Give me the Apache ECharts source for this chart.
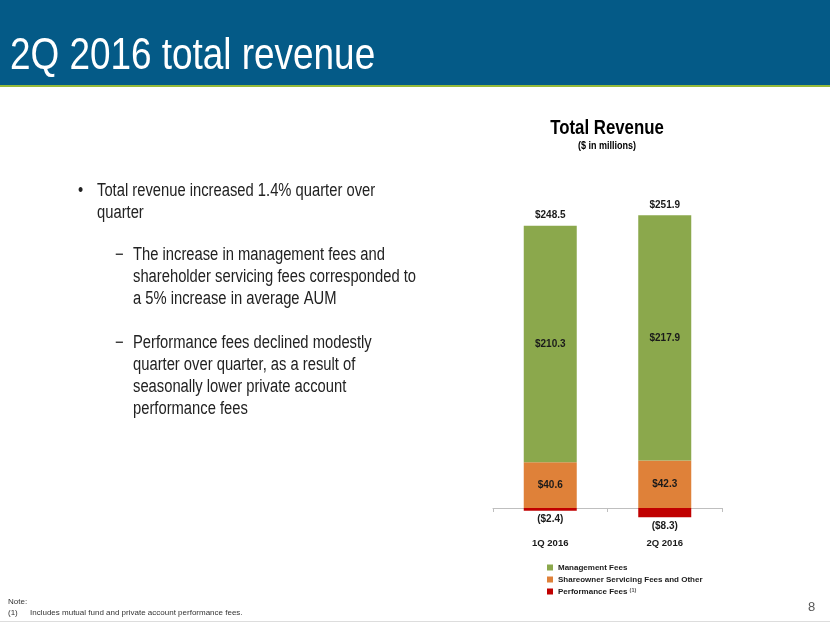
<!DOCTYPE html>
<html>
<head>
<meta charset="utf-8">
<script src="https://cdn.jsdelivr.net/npm/echarts@6/dist/echarts.min.js"></script>
<style>
html,body{margin:0;padding:0;background:#fff;}
#c{width:830px;height:623px;}
</style>
</head>
<body>
<div id="c"></div>
<script>
// ---- data ----
var categories = ['1Q 2016', '2Q 2016'];
var managementFees = [210.3, 217.9];
var shareownerFees = [40.6, 42.3];
var performanceFees = [-2.4, -8.3];
var totalRevenue = [248.5, 251.9];
var seriesNames = ['Management Fees', 'Shareowner Servicing Fees and Other', 'Performance Fees'];

var SANS = '"Liberation Sans", Arial, sans-serif';
var SQ = 0.82; // horizontal squeeze to imitate a narrow face

var chart = echarts.init(document.getElementById('c'), null, {renderer: 'canvas'});

function money(v) {
  return v < 0 ? '($' + Math.abs(v).toFixed(1) + ')' : '$' + v.toFixed(1);
}

var stackTops = managementFees.map(function (v, i) { return v + shareownerFees[i]; });

var labelStyle = {fontFamily: SANS, fontSize: 10, fontWeight: 'bold', color: '#1a1a1a'};

var option = {
  animation: false,
  backgroundColor: '#ffffff',
  legend: {
    orient: 'vertical',
    left: 542,
    top: 558,
    itemWidth: 6,
    itemHeight: 6,
    itemGap: 3,
    icon: 'rect',
    data: seriesNames,
    formatter: function (name) {
      return name === 'Performance Fees' ? name + ' {sup|(1)}' : name;
    },
    textStyle: {
      fontFamily: SANS, fontSize: 8, fontWeight: 'bold', color: '#1a1a1a', lineHeight: 9,
      rich: {sup: {fontFamily: SANS, fontSize: 5.5, color: '#555', verticalAlign: 'top', lineHeight: 9}}
    }
  },
  grid: {left: 493, right: 108, top: 193, bottom: 92.5},
  xAxis: {
    type: 'category',
    data: categories,
    axisLine: {onZero: true, lineStyle: {color: '#BFBFBF', width: 1}},
    axisTick: {show: true, length: 4, lineStyle: {color: '#BFBFBF'}},
    axisLabel: {margin: 8, fontFamily: SANS, fontSize: 9.5, fontWeight: 'bold', color: '#1a1a1a'}
  },
  yAxis: {
    type: 'value', min: -20, max: 280, show: false,
    splitLine: {show: false}
  },
  series: [
    {
      name: seriesNames[1], type: 'bar', stack: 'rev', barWidth: 53,
      itemStyle: {color: '#DF8139'},
      label: Object.assign({show: true, position: 'inside',
        formatter: function (p) { return money(p.value); }}, labelStyle),
      data: shareownerFees
    },
    {
      name: seriesNames[0], type: 'bar', stack: 'rev', barWidth: 53,
      itemStyle: {color: '#8BA84C'},
      label: Object.assign({show: true, position: 'inside',
        formatter: function (p) { return money(p.value); }}, labelStyle),
      data: managementFees
    },
    {
      name: seriesNames[2], type: 'bar', stack: 'rev', barWidth: 53,
      itemStyle: {color: '#C00000'},
      label: Object.assign({show: true, position: 'bottom', distance: 4,
        formatter: function (p) { return money(p.value); }}, labelStyle),
      data: performanceFees
    },
    {
      name: 'Total', type: 'scatter', symbolSize: 0, silent: true,
      itemStyle: {color: 'rgba(0,0,0,0)', opacity: 1},
      label: Object.assign({show: true, position: 'top', distance: 5,
        formatter: function (p) { return money(totalRevenue[p.dataIndex]); }}, labelStyle),
      labelLayout: {hideOverlap: false},
      data: stackTops
    }
  ],
  graphic: [
    {type: 'rect', shape: {x: 0, y: 0, width: 830, height: 85}, style: {fill: '#045A87'}, z: -1},
    {type: 'rect', shape: {x: 0, y: 85, width: 830, height: 2}, style: {fill: '#95B93A'}, z: -1},
    {type: 'text', x: 10, y: 57, scaleX: SQ, style: {text: '2Q 2016 total revenue', fill: '#fff', fontFamily: SANS, fontSize: 45, verticalAlign: 'middle'}},
    {type: 'text', x: 607, y: 128, scaleX: SQ, style: {text: 'Total Revenue', fill: '#000', fontFamily: SANS, fontSize: 20.5, fontWeight: 'bold', align: 'center', verticalAlign: 'middle'}},
    {type: 'text', x: 607, y: 146, scaleX: SQ, style: {text: '($ in millions)', fill: '#000', fontFamily: SANS, fontSize: 11, fontWeight: 'bold', align: 'center', verticalAlign: 'middle'}},
    {type: 'text', x: 78, y: 180, scaleX: SQ, style: {text: '•', fill: '#222', fontFamily: SANS, fontSize: 18, lineHeight: 22, verticalAlign: 'top'}},
    {type: 'text', x: 97, y: 180, scaleX: SQ, style: {text: 'Total revenue increased 1.4% quarter over\nquarter', fill: '#222', fontFamily: SANS, fontSize: 18, lineHeight: 22, verticalAlign: 'top'}},
    {type: 'text', x: 115, y: 244, scaleX: SQ, style: {text: '−', fill: '#222', fontFamily: SANS, fontSize: 18, lineHeight: 22, verticalAlign: 'top'}},
    {type: 'text', x: 133, y: 244, scaleX: SQ, style: {text: 'The increase in management fees and\nshareholder servicing fees corresponded to\na 5% increase in average AUM', fill: '#222', fontFamily: SANS, fontSize: 18, lineHeight: 22, verticalAlign: 'top'}},
    {type: 'text', x: 115, y: 332, scaleX: SQ, style: {text: '−', fill: '#222', fontFamily: SANS, fontSize: 18, lineHeight: 22, verticalAlign: 'top'}},
    {type: 'text', x: 133, y: 332, scaleX: SQ, style: {text: 'Performance fees declined modestly\nquarter over quarter, as a result of\nseasonally lower private account\nperformance fees', fill: '#222', fontFamily: SANS, fontSize: 18, lineHeight: 22, verticalAlign: 'top'}},
    {type: 'text', x: 8, y: 602, style: {text: 'Note:', fill: '#333', fontFamily: SANS, fontSize: 8, verticalAlign: 'middle'}},
    {type: 'text', x: 8, y: 613, style: {text: '(1)', fill: '#333', fontFamily: SANS, fontSize: 8, verticalAlign: 'middle'}},
    {type: 'text', x: 30, y: 613, style: {text: 'Includes mutual fund and private account performance fees.', fill: '#333', fontFamily: SANS, fontSize: 8, verticalAlign: 'middle'}},
    {type: 'text', x: 808, y: 607, style: {text: '8', fill: '#595959', fontFamily: SANS, fontSize: 13, verticalAlign: 'middle'}},
    {type: 'rect', shape: {x: 0, y: 621, width: 830, height: 1}, style: {fill: '#DDDDDD'}}
  ]
};
chart.setOption(option);
</script>
</body>
</html>
